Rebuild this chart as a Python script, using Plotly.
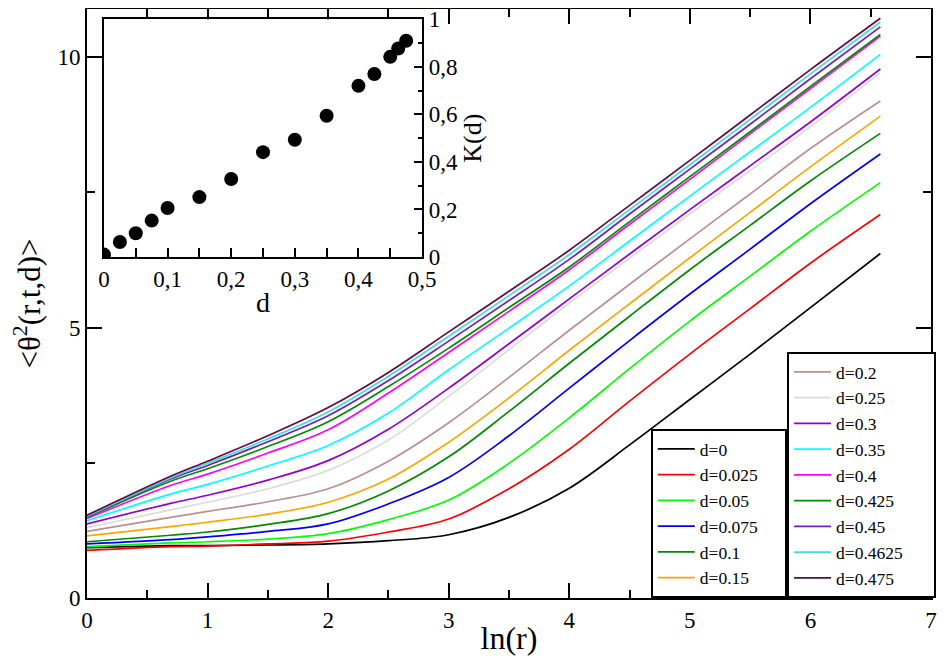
import plotly.graph_objects as go

# ln(r) sample points
ln_r = [0, 0.693, 1.0, 1.5, 2.0, 2.5, 3.0, 3.5, 4.0, 4.5, 5.0, 5.5, 6.0, 6.58]

# <theta^2(r,t,d)> for each d
theta_d0 = [0.93, 0.97, 0.97, 0.98, 1.00, 1.06, 1.17, 1.49, 2.03, 2.83, 3.67, 4.51, 5.37, 6.37]
theta_d0025 = [0.88, 0.95, 0.96, 1.00, 1.05, 1.22, 1.46, 2.02, 2.75, 3.64, 4.51, 5.35, 6.19, 7.09]
theta_d005 = [0.95, 1.02, 1.04, 1.09, 1.19, 1.45, 1.81, 2.49, 3.33, 4.24, 5.12, 5.95, 6.78, 7.68]
theta_d0075 = [1.00, 1.08, 1.13, 1.23, 1.37, 1.74, 2.23, 3.00, 3.88, 4.76, 5.62, 6.45, 7.29, 8.21]
theta_d01 = [1.04, 1.16, 1.22, 1.36, 1.56, 1.98, 2.61, 3.45, 4.34, 5.21, 6.07, 6.89, 7.71, 8.59]
theta_d015 = [1.15, 1.32, 1.40, 1.55, 1.77, 2.20, 2.88, 3.70, 4.58, 5.44, 6.29, 7.13, 7.97, 8.91]
theta_d02 = [1.23, 1.49, 1.60, 1.78, 2.02, 2.53, 3.24, 4.08, 4.95, 5.80, 6.64, 7.47, 8.31, 9.19]
theta_d025 = [1.30, 1.63, 1.77, 2.02, 2.36, 2.92, 3.73, 4.59, 5.45, 6.28, 7.10, 7.90, 8.71, 9.71]
theta_d03 = [1.37, 1.75, 1.90, 2.18, 2.54, 3.12, 3.88, 4.70, 5.53, 6.36, 7.18, 7.99, 8.80, 9.78]
theta_d035 = [1.43, 1.92, 2.10, 2.44, 2.82, 3.42, 4.22, 4.99, 5.77, 6.60, 7.43, 8.25, 9.07, 10.05]
theta_d04 = [1.47, 2.08, 2.29, 2.68, 3.11, 3.79, 4.54, 5.30, 6.07, 6.91, 7.74, 8.58, 9.42, 10.39]
theta_d0425 = [1.49, 2.16, 2.39, 2.80, 3.26, 3.91, 4.62, 5.37, 6.12, 6.96, 7.79, 8.62, 9.46, 10.42]
theta_d045 = [1.50, 2.20, 2.45, 2.89, 3.37, 4.02, 4.75, 5.50, 6.26, 7.10, 7.93, 8.76, 9.60, 10.56]
theta_d04625 = [1.51, 2.22, 2.49, 2.94, 3.44, 4.10, 4.84, 5.59, 6.35, 7.18, 8.01, 8.85, 9.69, 10.65]
theta_d0475 = [1.53, 2.25, 2.53, 3.00, 3.52, 4.17, 4.92, 5.67, 6.43, 7.26, 8.09, 8.93, 9.77, 10.72]

d_labels = ["d=0", "d=0.025", "d=0.05", "d=0.075", "d=0.1", "d=0.15",
            "d=0.2", "d=0.25", "d=0.3", "d=0.35", "d=0.4", "d=0.425",
            "d=0.45", "d=0.4625", "d=0.475"]

# inset: K(d)
d_inset = [0, 0.025, 0.05, 0.075, 0.1, 0.15, 0.2, 0.25, 0.3, 0.35, 0.4, 0.425, 0.45, 0.4625, 0.475]
K_inset = [0.01, 0.063, 0.10, 0.153, 0.206, 0.252, 0.328, 0.441, 0.493, 0.594, 0.72, 0.77, 0.842, 0.877, 0.91]

series = [theta_d0, theta_d0025, theta_d005, theta_d0075, theta_d01, theta_d015,
          theta_d02, theta_d025, theta_d03, theta_d035, theta_d04, theta_d0425,
          theta_d045, theta_d04625, theta_d0475]

colors = ["black", "rgb(255,0,0)", "rgb(0,255,0)", "rgb(0,0,255)", "rgb(0,139,0)",
          "rgb(255,165,0)", "rgb(188,143,143)", "rgb(220,220,220)", "rgb(148,0,211)",
          "rgb(0,255,255)", "rgb(255,0,255)", "rgb(0,139,0)", "rgb(114,33,188)",
          "rgb(64,224,208)", "rgb(103,7,72)"]

FONT = "Liberation Serif"
NBSP = "\u00a0"

fig = go.Figure()

for i, (ys, lab) in enumerate(zip(series, d_labels)):
    # pad the widest entry of each legend so the boxes come out as wide as the original
    if lab == "d=0.025":
        lab = lab + NBSP * 5
    if lab == "d=0.4625":
        lab = lab + NBSP * 6
    fig.add_trace(go.Scatter(
        x=ln_r, y=ys, mode="lines", name=lab,
        line=dict(color=colors[i], width=1.7, shape="spline", smoothing=1.0),
        legend="legend" if i < 6 else "legend2",
    ))

fig.add_trace(go.Scatter(
    x=d_inset, y=K_inset, mode="markers", showlegend=False,
    marker=dict(color="black", size=14),
    xaxis="x2", yaxis="y2",
))

axis_common = dict(showgrid=False, zeroline=False, showline=True, linewidth=2,
                   linecolor="black", ticks="inside", tickwidth=2, tickcolor="black",
                   automargin=False, ticklabeloverflow="allow",
                   tickfont=dict(family=FONT, size=23, color="black"))

legend_common = dict(y=0, yanchor="bottom", bgcolor="white", bordercolor="black",
                     borderwidth=2, font=dict(family=FONT, size=17.5, color="black"),
                     itemwidth=37, tracegroupgap=0)

# the page body keeps an 8px margin, so the margins below are trimmed to suit
fig.update_layout(
    margin=dict(l=79, r=6, t=1, b=58),
    plot_bgcolor="white",
    paper_bgcolor="white",
    separators=", ",
    font=dict(family=FONT, color="black"),
    xaxis=dict(domain=[0, 1], range=[0, 7], dtick=1, ticklen=15, mirror="ticks",
               minor=dict(dtick=0.5, ticklen=8, tickwidth=2, tickcolor="black", ticks="inside"),
               title=dict(text="ln(r)", font=dict(family=FONT, size=32), standoff=8),
               **axis_common),
    yaxis=dict(domain=[0, 1], range=[0, 10.89], dtick=5, ticklen=15, mirror="ticks",
               minor=dict(dtick=2.5, ticklen=8, tickwidth=2, tickcolor="black", ticks="inside"),
               title=dict(text="&lt;θ<sup>2</sup>(r,t,d)&gt;", font=dict(family=FONT, size=31)),
               **axis_common),
    xaxis2=dict(domain=[0.0201, 0.397], range=[0, 0.5], dtick=0.1, ticklen=9, anchor="y2",
                mirror=True,
                minor=dict(dtick=0.05, ticklen=9, tickwidth=2, tickcolor="black", ticks="inside"),
                title=dict(text="d", font=dict(family=FONT, size=28), standoff=2),
                **axis_common),
    yaxis2=dict(domain=[0.579, 0.9825], range=[0, 1], dtick=0.2, ticklen=8, anchor="x2",
                side="right", mirror=True,
                minor=dict(dtick=0.1, ticklen=4, tickwidth=2, tickcolor="black", ticks="inside"),
                title=dict(text="K(d)", font=dict(family=FONT, size=26), standoff=0),
                **axis_common),
    legend=dict(x=0.668, xanchor="left", **legend_common),
    legend2=dict(x=1.006, xanchor="right", **legend_common),
)

fig.write_html("out.html")
